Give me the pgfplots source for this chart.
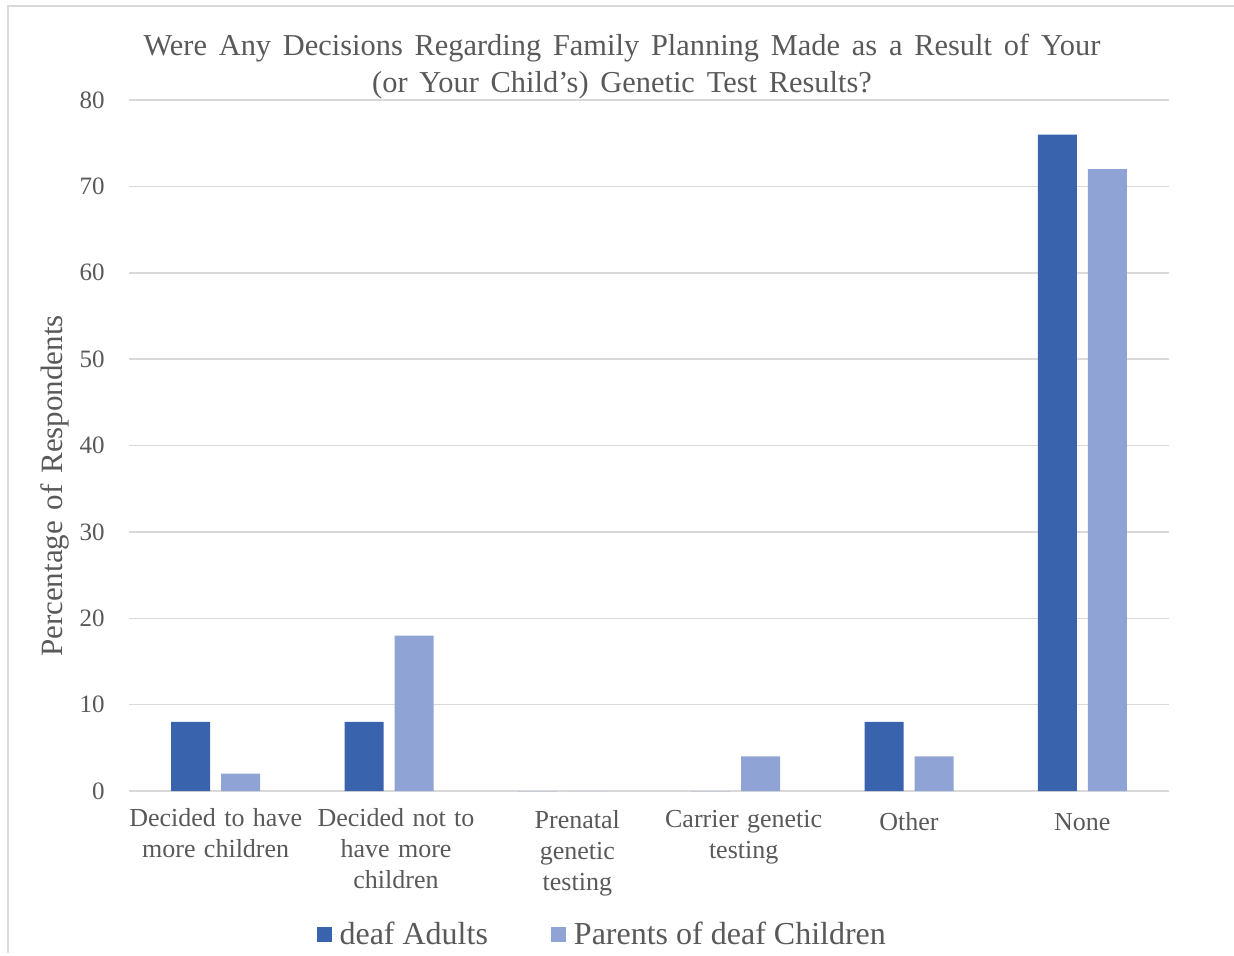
\documentclass[border=0pt]{standalone}
\usepackage{fontspec}
\setmainfont{Liberation Serif}
\usepackage{pgfplots}
\pgfplotsset{compat=1.18}
\definecolor{darkb}{HTML}{3A63AD}
\definecolor{lightb}{HTML}{8FA3D4}
\definecolor{txt}{HTML}{595959}
\definecolor{grd}{HTML}{D9D9D9}
\newcommand\ws[1]{\spaceskip=#1\relax}
\begin{document}
\begin{tikzpicture}
\begin{scope}[x=0.5pt,y=-0.5pt]
\path[use as bounding box] (0,0) rectangle (1234,953);
\draw[grd, line width=1pt] (8,953) -- (8,6) -- (1234,6);
\node[txt, font=\fontsize{15.2}{18.5}\selectfont\ws{5.9pt}, align=center, inner sep=0pt] at (622,67) {Were Any Decisions Regarding Family Planning Made as a Result of Your\\(or Your Child's) Genetic Test Results?};
\node[txt, font=\fontsize{15.5}{17}\selectfont\ws{5.4pt}, rotate=90, inner sep=0pt] at (55,486) {Percentage of Respondents};
\end{scope}
\begin{axis}[at={(64.5pt,-395.5pt)}, anchor=south west, scale only axis,
  width=520pt, height=345.5pt,
  ybar=5.5pt, bar width=19.5pt,
  ymin=0, ymax=80, ytick={0,10,...,80},
  xmin=-0.5, xmax=5.5, xtick={0,...,5},
  xticklabels={{Decided to have\\more children},{\hspace*{7pt}Decided not to\\\hspace*{7pt}have more\\\hspace*{7pt}children},{\rule{0pt}{10.4pt}\hspace*{15pt}Prenatal\\\hspace*{15pt}genetic\\\hspace*{15pt}testing},{\rule{0pt}{9.9pt}\hspace*{8pt}Carrier genetic\\\hspace*{8pt}testing},{\rule{0pt}{11.4pt}Other},{\rule{0pt}{11.4pt}None}},
  ymajorgrids, grid style={grd, line width=0.75pt},
  axis line style={draw=none}, tick style={draw=none},
  /pgf/number format/assume math mode=true,
  yticklabel style={font=\fontsize{12.5}{14}\selectfont, text=txt, inner sep=0pt, xshift=-12pt},
  xticklabel style={font=\fontsize{13}{15.5}\selectfont\ws{4.2pt}, text=txt, align=center, inner sep=0pt, yshift=-4pt},
  legend style={at={(0.456,-0.208)}, anchor=center, draw=none, legend columns=2,
    font=\fontsize{16}{18}\selectfont, text=txt,
    /tikz/every even column/.append style={column sep=29.5pt}},
  legend image code/.code={\fill[#1] (0pt,-3.75pt) rectangle (7.5pt,3.75pt); \path (7.5pt,0pt) -- (9.5pt,0pt);},
]
\addplot[fill=darkb, draw=none] coordinates {(0,8) (1,8) (2,0) (3,0) (4,8) (5,76)};
\addplot[fill=lightb, draw=none] coordinates {(0,2) (1,18) (2,0) (3,4) (4,4) (5,72)};
\legend{deaf Adults, Parents of deaf Children}
\end{axis}
\end{tikzpicture}
\end{document}
